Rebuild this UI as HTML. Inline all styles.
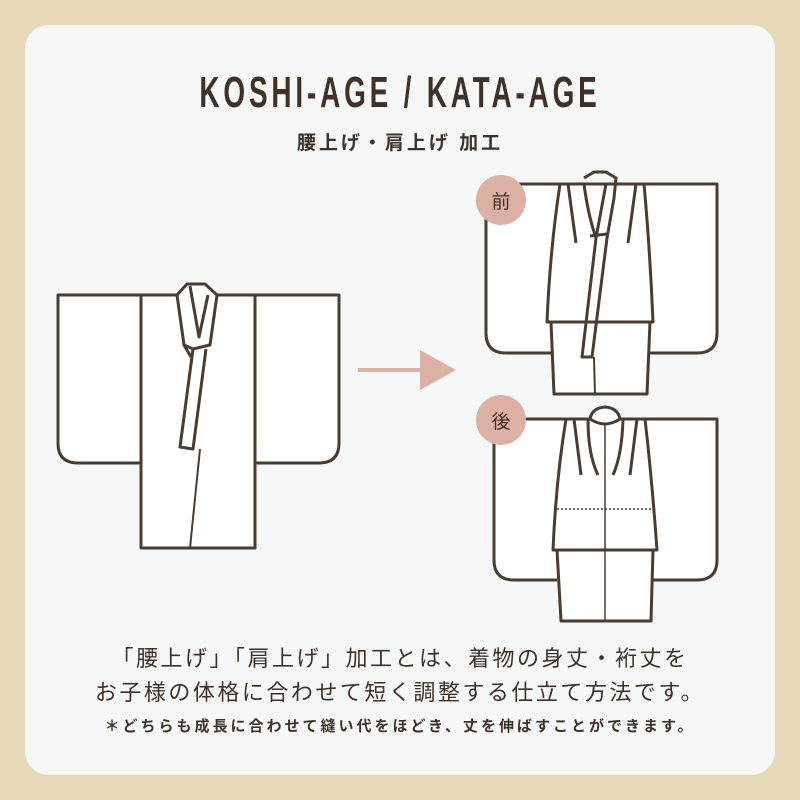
<!DOCTYPE html>
<html><head><meta charset="utf-8"><style>
html,body{margin:0;padding:0;background:#e8d9bb;}
.wrap{position:relative;width:800px;height:800px;overflow:hidden;}
.card{position:absolute;left:25px;top:25px;width:750px;height:750px;background:#f6f8f8;border-radius:24px;}
.t{position:absolute;left:0;width:800px;text-align:center;color:#3f3128;font-family:"Liberation Sans","Noto Sans CJK JP",sans-serif;white-space:nowrap;}
</style></head><body><div class="wrap">
<div class="card"></div>
<div class="t" style="top:68px;font-weight:bold;font-size:44px;letter-spacing:6px;transform:scaleX(0.635);">KOSHI-AGE / KATA-AGE</div>
<div class="t" style="top:128px;font-size:19px;font-weight:bold;letter-spacing:3px;">腰上げ・肩上げ 加工</div>
<svg style="position:absolute;left:0;top:0" width="800" height="800" viewBox="0 0 800 800" fill="none" stroke="#4a3c30" stroke-width="3" stroke-linejoin="round">
<path d="M141 295 H58 V443 Q58 463 78 463 H141" fill="#fff"/>
<path d="M255 295 H339 V443 Q339 463 319 463 H255" fill="#fff"/>
<rect x="141" y="295" width="114" height="253" fill="#fff"/>
<path d="M177 295 L187 284 H205 L217 295 L210 345 L193 349 L184 345 Z" fill="#fff"/>
<path d="M190 286 L199 337 L208 295"/>
<path d="M184 345 L191 357"/>
<path d="M193 349 L180 447 L193 449 L206 349"/>
<path d="M200 449 L190 548" stroke-width="2"/>
<line x1="358" y1="370" x2="425" y2="370" stroke="#dcb0a2" stroke-width="4"/>
<polygon points="420,350 456,370 420,390" fill="#dcb0a2" stroke="none"/>
<path d="M560 184 H486 V333 Q486 353 506 353 H551" fill="#fff"/>
<path d="M644 184 H717 V333 Q717 353 697 353 H650" fill="#fff"/>
<path d="M551 322 L554 394 H647 L650 322 Z" fill="#fff"/>
<path d="M560 184 Q550 250 547 322 H653 Q650 250 644 184 Z" fill="#fff"/>
<path d="M568 184 L576 243 M636 184 L628 243"/>
<path d="M584 184 Q588 215 596 238 L606 184"/>
<path d="M584 178 L594 172 H606 L616 178 L614 198 L607 238 L592 357 L582 357 L596 238"/>
<path d="M590 236 L607 234"/>
<path d="M594 357 L595 394" stroke-width="2"/>
<path d="M566 419 H494 V560 Q494 580 514 580 H557" fill="#fff"/>
<path d="M645 419 H717 V560 Q717 580 697 580 H651" fill="#fff"/>
<path d="M557 550 L561 621 H651 L653 550 Z" fill="#fff"/>
<path d="M566 419 Q556 480 553 550 H657 Q652 480 645 419 Z" fill="#fff"/>
<path d="M574 419 L581 475 M588 419 Q588 455 598 475 M637 419 L630 475 M623 419 Q622 455 613 475"/>
<path d="M590 419 Q592 408 605 407 Q618 408 620 419 Q612 424 605 424 Q598 424 590 419 Z" fill="#fff"/>
<line x1="605" y1="424" x2="605" y2="621" stroke-width="1.5"/>
<line x1="557" y1="509" x2="654" y2="509" stroke-width="1.5" stroke-dasharray="2,2"/>
<circle cx="501" cy="200" r="25" fill="#dcb0a2" stroke="none"/>
<circle cx="501" cy="420" r="25" fill="#dcb0a2" stroke="none"/>
<text x="501" y="208" text-anchor="middle" font-size="19" fill="#3f3128" stroke="none" font-family="Noto Sans CJK JP,sans-serif">前</text>
<text x="501" y="428" text-anchor="middle" font-size="19" fill="#3f3128" stroke="none" font-family="Noto Sans CJK JP,sans-serif">後</text>
</svg>
<div class="t" style="top:641px;font-size:22px;letter-spacing:2.5px;">「腰上げ」「肩上げ」加工とは、着物の身丈・裄丈を</div>
<div class="t" style="top:675px;font-size:22px;letter-spacing:2.5px;">お子様の体格に合わせて短く調整する仕立て方法です。</div>
<div class="t" style="top:715px;font-size:15px;font-weight:bold;letter-spacing:3px;">＊どちらも成長に合わせて縫い代をほどき、丈を伸ばすことができます。</div>
</div></body></html>
